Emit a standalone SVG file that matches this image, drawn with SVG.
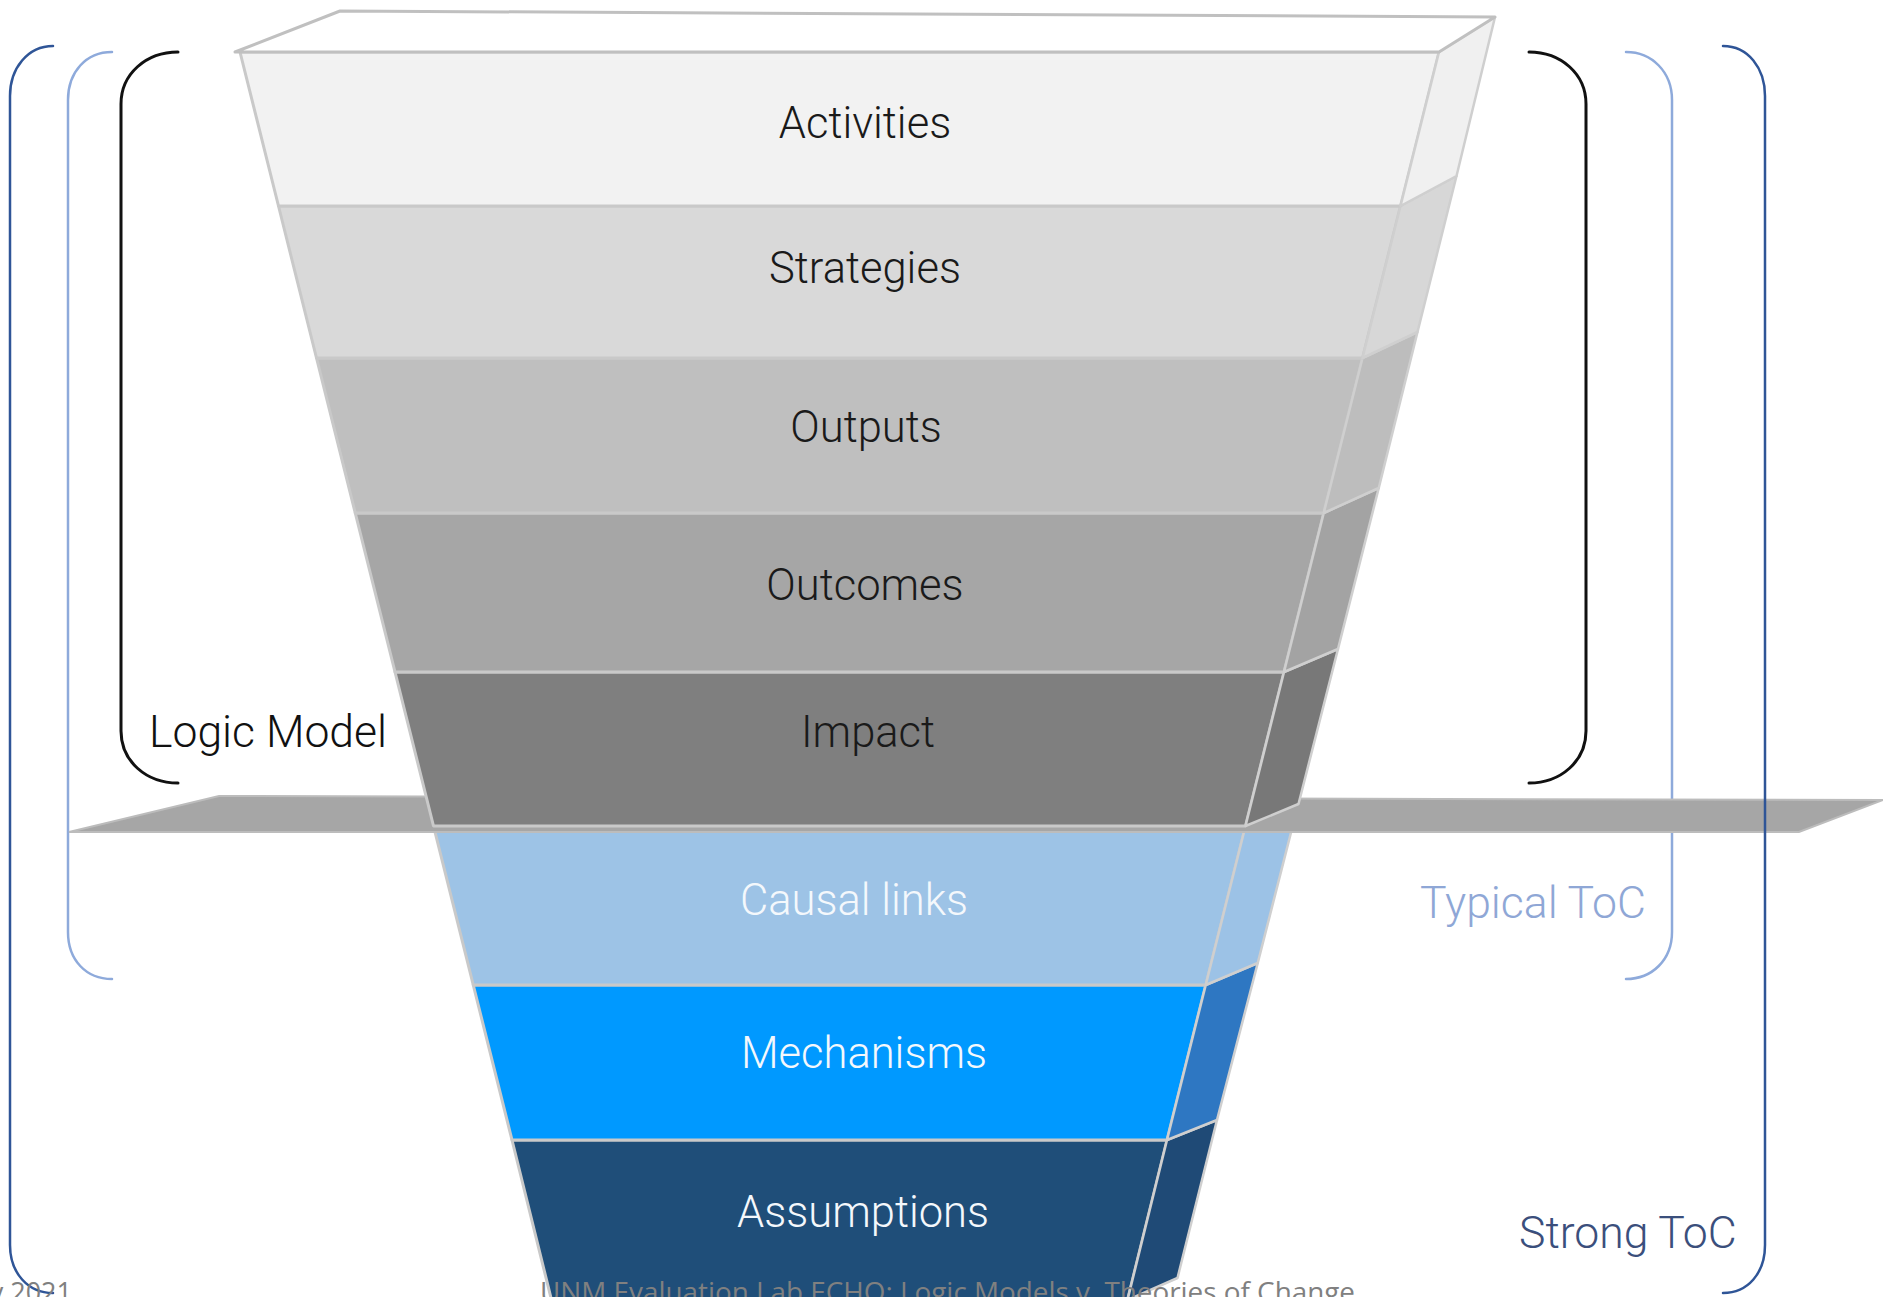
<svg xmlns="http://www.w3.org/2000/svg" width="1883" height="1297" viewBox="0 0 1883 1297">
<style>
.face{stroke:#c9c9c9;stroke-width:3;stroke-linejoin:round}
.side{stroke:#cfcfcf;stroke-width:2.5;stroke-linejoin:round}
.lbl{font-family:Roboto,"Liberation Sans",Arial,sans-serif;font-weight:300;font-size:43.5px;text-anchor:middle}
.ann{font-family:Roboto,"Liberation Sans",Arial,sans-serif;font-weight:300;font-size:44.5px}
.dark{fill:#1a1a1a}
.light{fill:#f4f8fc}
.br{fill:none;stroke-linecap:round}
.foot{font-family:"Open Sans","Liberation Sans",Arial,sans-serif;font-size:27px;fill:#808080}
</style>
<rect width="1883" height="1297" fill="#ffffff"/>

<g id="brackets-back">
  <path class="br" stroke="#8eaadb" stroke-width="2.5" d="M112,52 C86,52 68,72 68,100 V932 C68,960 86,979 112,979"/>
  <path class="br" stroke="#8eaadb" stroke-width="2.5" d="M1626,52 C1652,52 1672,72 1672,100 V932 C1672,960 1652,979 1626,979"/>
</g>

<g id="layer-assumptions">
  <polygon class="face" fill="#1f4e79" points="512,1140 1167,1140 1127.5,1300 551.5,1300"/>
  <polygon class="side" fill="#1f4a76" points="1167,1140 1217,1120 1177.5,1278 1127.5,1300"/>
  <text class="lbl light" x="863" y="1227">Assumptions</text>
</g>
<g id="layer-mechanisms">
  <polygon class="face" fill="#0099ff" points="473.25,985 1205.75,985 1167,1140 512,1140"/>
  <polygon class="side" fill="#2e77c2" points="1205.75,985 1257.75,963 1217,1120 1167,1140"/>
  <text class="lbl light" x="864" y="1068">Mechanisms</text>
</g>
<g id="layer-causal-links">
  <polygon class="face" fill="#9dc3e6" points="434.75,831 1244.25,831 1205.75,985 473.25,985"/>
  <polygon class="side" fill="#9cc2e6" points="1244.25,831 1297,809 1257.75,963 1205.75,985"/>
  <text class="lbl light" x="854" y="915">Causal links</text>
</g>

<g id="plane">
  <polygon fill="#a6a6a6" stroke="#bcbcbc" stroke-width="2" points="69,832 219,796 1883,800 1799,832"/>
</g>

<g id="brackets-front">
  <path class="br" stroke="#2f5597" stroke-width="2.5" d="M53,46 C28,46 10,68 10,96 V1245 C10,1273 28,1293 53,1293"/>
  <path class="br" stroke="#2f5597" stroke-width="2.5" d="M1723,46 C1748,46 1765,68 1765,96 V1245 C1765,1273 1748,1293 1723,1293"/>
  <path class="br" stroke="#111111" stroke-width="3" d="M178,52 C146,52 121,74 121,104 V731 C121,761 146,783 178,783"/>
  <path class="br" stroke="#111111" stroke-width="3" d="M1529,52 C1561,52 1586,74 1586,104 V731 C1586,761 1561,783 1529,783"/>
</g>

<g id="layer-impact">
  <polygon class="face" fill="#7f7f7f" points="395,672 1284,672 1245.5,826 433.5,826"/>
  <polygon class="side" fill="#787878" points="1284,672 1338,649 1298.5,804 1245.5,826"/>
  <text class="lbl dark" x="868" y="747">Impact</text>
</g>
<g id="layer-outcomes">
  <polygon class="face" fill="#a6a6a6" points="355.25,513 1323.75,513 1284,672 395,672"/>
  <polygon class="side" fill="#a3a3a3" points="1323.75,513 1378.75,488 1338,649 1284,672"/>
  <text class="lbl dark" x="865" y="600">Outcomes</text>
</g>
<g id="layer-outputs">
  <polygon class="face" fill="#bfbfbf" points="316.5,358 1362.5,358 1323.75,513 355.25,513"/>
  <polygon class="side" fill="#bdbdbd" points="1362.5,358 1417.5,332 1378.75,488 1323.75,513"/>
  <text class="lbl dark" x="866" y="442">Outputs</text>
</g>
<g id="layer-strategies">
  <polygon class="face" fill="#d9d9d9" points="278.5,206 1400.5,206 1362.5,358 316.5,358"/>
  <polygon class="side" fill="#d7d7d7" points="1400.5,206 1456.5,176 1417.5,332 1362.5,358"/>
  <text class="lbl dark" x="865" y="283">Strategies</text>
</g>
<g id="layer-activities">
  <polygon class="face" fill="#f2f2f2" points="240,52 1439,52 1400.5,206 278.5,206"/>
  <polygon class="side" fill="#f0f0f0" points="1439,52 1495,17 1456.5,176 1400.5,206"/>
  <polygon fill="#ffffff" stroke="#c0c0c0" stroke-width="3" stroke-linejoin="round" points="235,52 340,11 1495,17 1439,52"/>
  <text class="lbl dark" x="865" y="138">Activities</text>
</g>

<g id="labels">
  <text class="ann" fill="#111111" x="149" y="747">Logic Model</text>
  <text class="ann" fill="#8fa7d6" x="1420" y="918">Typical ToC</text>
  <text class="ann" fill="#3b4f7c" x="1519" y="1248">Strong ToC</text>
</g>

<g id="footer">
  <text class="foot" x="540" y="1302" textLength="815" lengthAdjust="spacingAndGlyphs">UNM Evaluation Lab ECHO: Logic Models v. Theories of Change</text>
  <text class="foot" x="72" y="1302" text-anchor="end">y 2021</text>
</g>
</svg>
